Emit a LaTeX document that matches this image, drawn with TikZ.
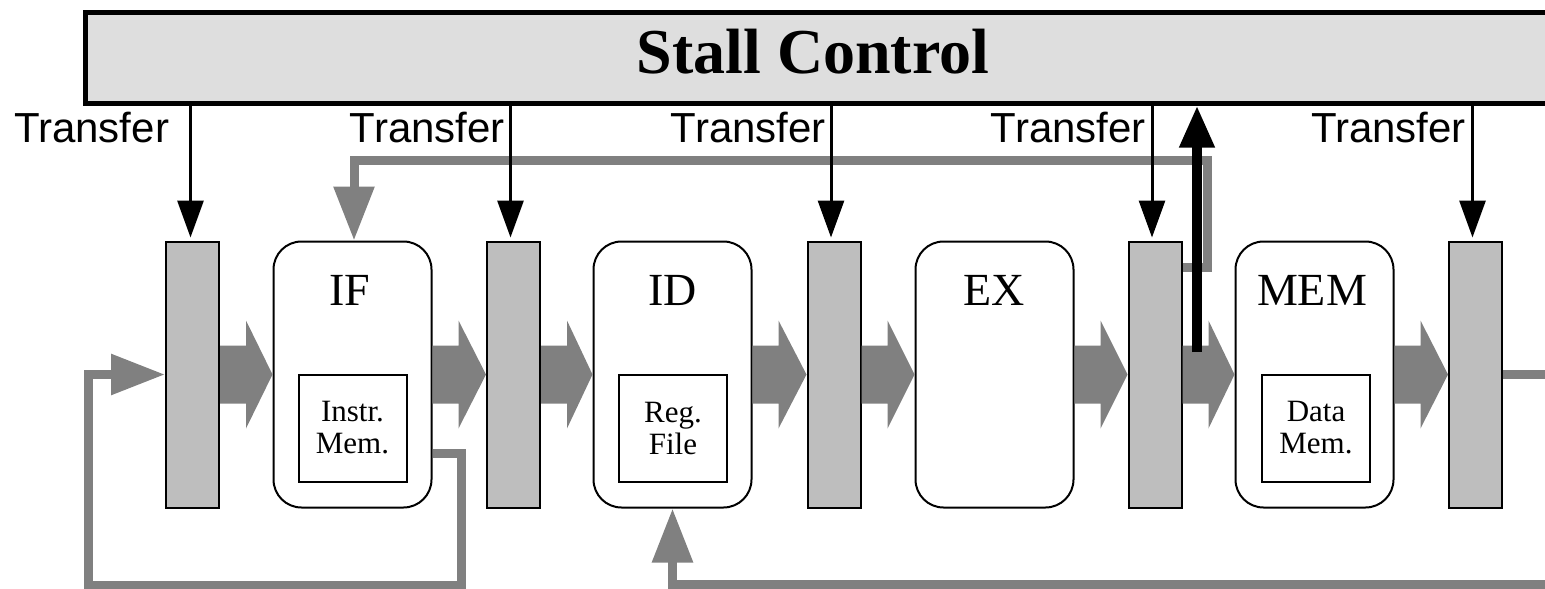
\documentclass[tikz,border=0pt]{standalone}
\usepackage{fontspec}
\setmainfont{Liberation Serif}
\newfontfamily\sansf{Liberation Sans}
\usetikzlibrary{arrows.meta,calc}
\definecolor{stallgray}{HTML}{DEDEDE}
\definecolor{bargray}{HTML}{BEBEBE}
\definecolor{flowgray}{HTML}{808080}
\newcommand{\fatarr}[2]{%
  \fill[fat] let \p1=(#1.east), \p2=(#2.west) in
  (\x1,\y1+29pt) -- (\x1+26pt,\y1+29pt) -- (\x1+26pt,\y1+54pt) -- (\x2,\y1)
  -- (\x1+26pt,\y1-54pt) -- (\x1+26pt,\y1-29pt) -- (\x1,\y1-29pt) -- cycle;}
\begin{document}
\begin{tikzpicture}[x=1pt,y=-1pt,
  stallbox/.style={draw,line width=5pt,fill=stallgray,minimum width=1480pt,minimum height=90.5pt,inner sep=0},
  regbar/.style={draw,line width=2pt,fill=bargray,minimum width=53pt,minimum height=266pt,inner sep=0},
  stagebox/.style={draw,line width=2pt,fill=white,rounded corners=28pt,minimum width=158pt,minimum height=266pt,inner sep=0},
  membox/.style={draw,line width=2pt,fill=white,minimum width=108pt,minimum height=107pt,inner sep=0,align=center,font=\fontsize{31}{32}\selectfont},
  stagelbl/.style={anchor=base,inner sep=0,font=\fontsize{46}{50}\selectfont},
  xferlbl/.style={inner sep=0,font=\sansf\fontsize{42}{46}\selectfont},
  xfer/.style={line width=3pt,-{Triangle[length=37pt,width=26pt]},shorten >=3pt},
  fb/.style={draw=flowgray,line width=9pt},
  fbarrow/.style={fb,-{Triangle[length=54pt,width=39pt]}},
  fat/.style={fill=flowgray},
  stallarrow/.style={line width=10pt,-{Triangle[length=42pt,width=33pt]}}
]
\clip (0,0) rectangle (1545,589);

% Stall control
\node[stallbox] (stall) at (825,57.75) {};
\node[anchor=base,inner sep=0,font=\bfseries\fontsize{64}{70}\selectfont] (stallt) at (813,73) {Stall Control};

% coordinates for feedback paths
\coordinate (tpA) at (1207,267);
\coordinate (tpB) at (354,160);
\coordinate (lbR) at (461,453);
\coordinate (lbB) at (88,585);
\coordinate (brE) at (1560,584);
\coordinate (reE) at (1560,374.5);
\coordinate (hzS) at (1197,352);

% pipeline registers
\node[regbar] (r1) at (192.5,374.5) {};
\node[regbar] (r2) at (513.5,374.5) {};
\node[regbar] (r3) at (834,374.5) {};
\node[regbar] (r4) at (1155,374.5) {};
\node[regbar] (r5) at (1475.5,374.5) {};

% stages
\node[stagebox] (IF) at (352.5,374.5) {};
\node[stagebox] (ID) at (672.5,374.5) {};
\node[stagebox] (EX) at (994.5,374.5) {};
\node[stagebox] (MEM) at (1314.5,374.5) {};
\node[stagelbl] (IFt) at (350,305) {IF};
\node[stagelbl] (IDt) at (672.5,305) {ID};
\node[stagelbl] (EXt) at (994.5,305) {EX};
\node[stagelbl] (MEMt) at (1312,305) {MEM};
\node[membox] (imem) at (352.5,428) {Instr.\\Mem.};
\node[membox] (rfile) at (673,428) {Reg.\\File};
\node[membox] (dmem) at (1316,428) {Data\\Mem.};

% feedback paths
\draw[fbarrow] (r4.east |- tpA) -- (tpA) -- (tpA |- tpB) -- (tpB) -- (tpB |- IF.north);
\draw[fbarrow] (IF.east |- lbR) -- (lbR) -- (lbR |- lbB) -- (lbB) -- (lbB |- r1.west) -- (r1.west);
\draw[fbarrow] (brE) -- (ID.south |- brE) -- (ID.south);
\draw[fb] (r5.east) -- (reE);

% transfer signals
\coordinate (a1) at ([xshift=-2pt]r1.north);
\coordinate (a2) at ([xshift=-3pt]r2.north);
\coordinate (a3) at ([xshift=-3pt]r3.north);
\coordinate (a4) at ([xshift=-3pt]r4.north);
\coordinate (a5) at ([xshift=-3pt]r5.north);
\draw[xfer] (a1 |- stall.south) -- (a1);
\draw[xfer] (a2 |- stall.south) -- (a2);
\draw[xfer] (a3 |- stall.south) -- (a3);
\draw[xfer] (a4 |- stall.south) -- (a4);
\draw[xfer] (a5 |- stall.south) -- (a5);
\node[xferlbl,anchor=base west] (x1) at (14,142) {Transfer};
\node[xferlbl,anchor=base east] (x2) at (505,142) {Transfer};
\node[xferlbl,anchor=base east] (x3) at (826,142) {Transfer};
\node[xferlbl,anchor=base east] (x4) at (1146,142) {Transfer};
\node[xferlbl,anchor=base east] (x5) at (1466,142) {Transfer};

% data flow arrows
\fatarr{r1}{IF}
\fatarr{IF}{r2}
\fatarr{r2}{ID}
\fatarr{ID}{r3}
\fatarr{r3}{EX}
\fatarr{EX}{r4}
\fatarr{r4}{MEM}
\fatarr{MEM}{r5}

% stall request
\draw[stallarrow] (hzS) -- (hzS |- stall.south);
\end{tikzpicture}
\end{document}
